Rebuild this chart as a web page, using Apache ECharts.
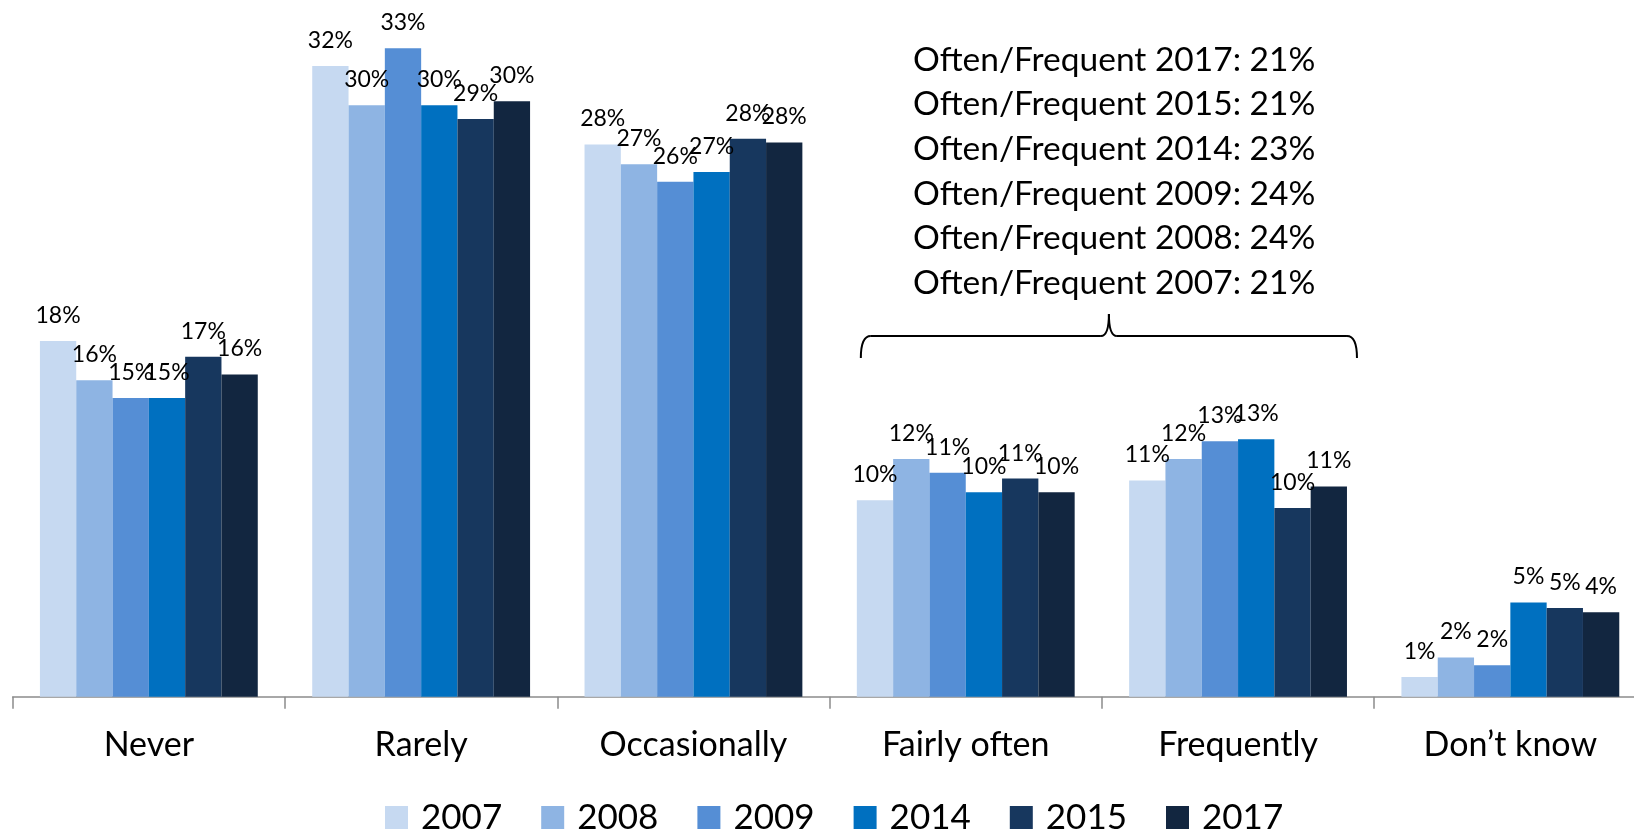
<!DOCTYPE html>
<html>
<head>
<meta charset="utf-8">
<title>Often / Frequent</title>
<script src="https://cdn.jsdelivr.net/npm/echarts@6/dist/echarts.min.js"></script>
<style>
  body { margin: 0; background: #fff; }
  #main { width: 1634px; height: 832px; }
</style>
</head>
<body>
<div id="main"></div>
<script>
var categories = ['Never', 'Rarely', 'Occasionally', 'Fairly often', 'Frequently', 'Don\u2019t know'];
var years = ['2007', '2008', '2009', '2014', '2015', '2017'];
var colors = ['#C6D9F1', '#8EB4E3', '#558ED5', '#0070C0', '#17375E', '#122640'];

// share in %, one array per survey year (same order as categories)
var v2007 = [18.1, 32.1, 28.1, 10.0, 11.0, 1.0];
var v2008 = [16.1, 30.1, 27.1, 12.1, 12.1, 2.0];
var v2009 = [15.2, 33.0, 26.2, 11.4, 13.0, 1.6];
var v2014 = [15.2, 30.1, 26.7, 10.4, 13.1, 4.8];
var v2015 = [17.3, 29.4, 28.4, 11.1, 9.6, 4.52];
var v2017 = [16.4, 30.3, 28.2, 10.4, 10.7, 4.3];
var values = [v2007, v2008, v2009, v2014, v2015, v2017];

// the note above the bracket (fairly often + frequently)
var oftenYears = ['2017', '2015', '2014', '2009', '2008', '2007'];
var oftenPct = [21, 21, 23, 24, 24, 21];

var font = 'Lato';

var chart = echarts.init(document.getElementById('main'));

var series = years.map(function (y, i) {
	return {
		name: y,
		type: 'bar',
		barGap: 0,
		barCategoryGap: '20%',
		itemStyle: { color: colors[i] },
		label: {
			show: true,
			position: 'top',
			distance: 14,
			fontSize: 23,
			fontFamily: font,
			color: '#000',
			formatter: function (p) { return Math.round(p.value) + '%'; }
		},
		data: values[i]
	};
});

chart.setOption({
	animation: false,
	color: colors,
	grid: { left: 12.7, right: -12.5, top: 8.95, bottom: 135.3, containLabel: false, outerBoundsMode: 'none' },
	legend: {
		data: years,
		left: 380,
		top: 795,
		itemWidth: 23,
		itemHeight: 23,
		itemGap: 39,
		icon: 'rect',
		textStyle: { fontSize: 35, fontFamily: font, color: '#000', width: 82, padding: [0, 0, 0, 8] }
	},
	xAxis: {
		type: 'category',
		data: categories,
		axisLine: { lineStyle: { color: '#8c8c8c', width: 1.5 } },
		axisTick: { show: true, length: 12, lineStyle: { color: '#8c8c8c', width: 1.5 } },
		axisLabel: { fontSize: 34, fontFamily: font, color: '#000', margin: 31 }
	},
	yAxis: {
		type: 'value',
		min: 0,
		max: 35,
		show: false,
		splitLine: { show: false }
	},
	series: series
});

// bracket over "Fairly often" + "Frequently", with the note above it
var x1 = chart.convertToPixel({ xAxisIndex: 0 }, 'Fairly often');
var x2 = chart.convertToPixel({ xAxisIndex: 0 }, 'Frequently');
var band = x2 - x1;
var L = x1 - band * 0.4 + 4;
var R = x2 + band * 0.4 + 10;
var M = (L + R) / 2;
var yl = 336, ytop = 314, ybot = 358;
var brace = { stroke: '#000', lineWidth: 2, fill: null };

function curve(ax, ay, bx, by, cx, cy) {
	return { type: 'bezierCurve', shape: { x1: ax, y1: ay, x2: bx, y2: by, cpx1: cx, cpy1: cy }, style: brace };
}
function seg(ax, ay, bx, by) {
	return { type: 'line', shape: { x1: ax, y1: ay, x2: bx, y2: by }, style: brace };
}

var graphics = [
	curve(L, ybot, L + 10, yl, L, yl),
	seg(L + 10, yl, M - 8, yl),
	curve(M - 8, yl, M, ytop, M, yl),
	curve(M, ytop, M + 8, yl, M, yl),
	seg(M + 8, yl, R - 10, yl),
	curve(R - 10, yl, R, ybot, R, yl)
];
oftenYears.forEach(function (y, i) {
	graphics.push({
		type: 'text',
		x: 913,
		y: 60 + i * 44.6,
		style: {
			text: 'Often/Frequent ' + y + ': ' + oftenPct[i] + '%',
			font: '33.5px ' + font,
			fill: '#000',
			textAlign: 'left',
			textVerticalAlign: 'middle'
		}
	});
});
chart.setOption({ graphic: graphics });
</script>
</body>
</html>
